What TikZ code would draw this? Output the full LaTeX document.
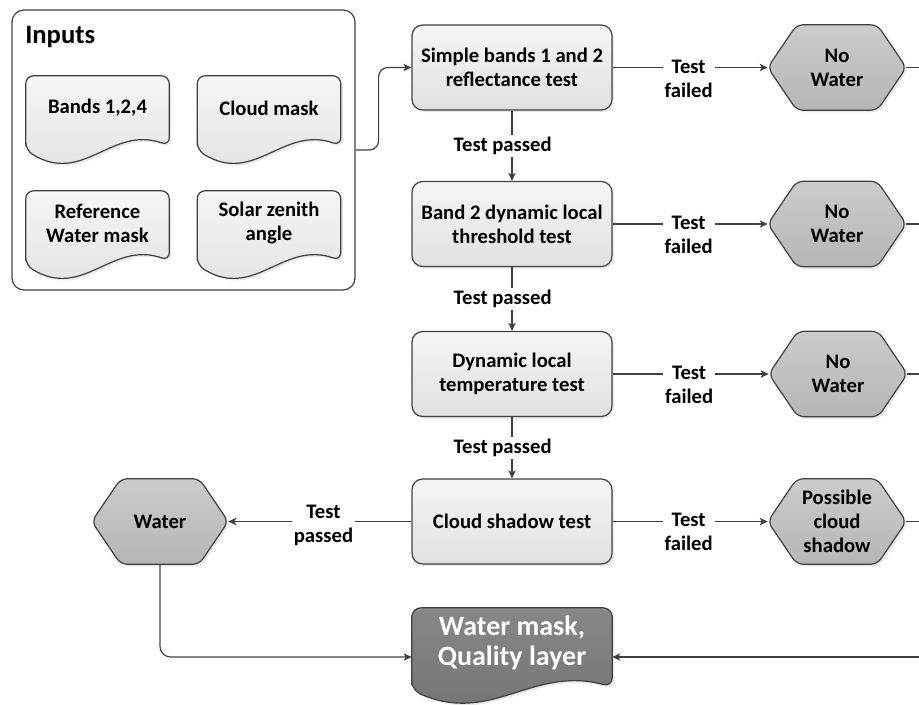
\documentclass[tikz,border=0pt]{standalone}
\usepackage{fontspec}
\setmainfont{Carlito}
\usetikzlibrary{arrows.meta,shadows,backgrounds,calc}
\definecolor{ln}{HTML}{404040}
\definecolor{boxtop}{HTML}{F6F6F6}
\definecolor{boxbot}{HTML}{E0E0E0}
\definecolor{hextop}{HTML}{CBCBCB}
\definecolor{hexbot}{HTML}{B6B6B6}
\definecolor{fintop}{HTML}{878787}
\definecolor{finbot}{HTML}{727272}
% document shape drawn from a named node: #1 name, #2 style, #3 left extension, #4 right extension
\newcommand\docpath[4]{%
  \path[#2] let \p1=(#1.north west), \p2=(#1.south east) in
    (\x1,{\y2-#3}) -- (\x1,\y1) -- (\x2,\y1) -- (\x2,{\y2-#4})
    .. controls ({\x1+0.6*(\x2-\x1)},{\y2-#3+18.75pt}) and ({\x1+0.4*(\x2-\x1)},{\y2-#3-26.25pt}) .. cycle;}
% hexagon drawn from a named node
\newcommand\hexpath[2]{%
  \path[#2] (#1.west) -- ([shift={(29,0)}]#1.north west) -- ([shift={(-29,0)}]#1.north east)
    -- (#1.east) -- ([shift={(-29,0)}]#1.south east) -- ([shift={(29,0)}]#1.south west) -- cycle;}
\begin{document}
\begin{tikzpicture}[x=0.75pt,y=-0.75pt,
  txt/.style={font=\bfseries\fontsize{15.5}{18}\selectfont, align=center, text=black},
  shd/.style={drop shadow={opacity=0.18,shadow xshift=1.6pt,shadow yshift=-1.6pt}},
  testbox/.style={txt, draw=ln, line width=0.9pt, rounded corners=8pt, top color=boxtop, bottom color=boxbot,
    minimum width=150pt, minimum height=63.75pt, inner sep=0pt, shd},
  hexnode/.style={txt, minimum width=103.5pt, minimum height=63.75pt, inner sep=0pt},
  hexdraw/.style={draw=ln, line width=0.9pt, rounded corners=5pt, top color=hextop, bottom color=hexbot, shd},
  docnode/.style={txt, minimum width=107.25pt, minimum height=48pt, inner sep=0pt},
  docdraw/.style={draw=ln, line width=0.9pt, rounded corners=6pt, top color=boxtop, bottom color=boxbot, shd},
  findraw/.style={draw=ln, line width=0.9pt, rounded corners=7pt, top color=fintop, bottom color=finbot, shd},
  plain/.style={draw=ln, line width=0.9pt},
  conn/.style={plain, -{Stealth[length=6pt,width=5.5pt,inset=1.5pt]}},
  lbl/.style={txt, fill=white, inner sep=1.5pt}]
\useasboundingbox (0,0) rectangle (919,704);

% inputs container
\node[draw=ln, line width=0.9pt, rounded corners=9pt, minimum width=257.25pt, minimum height=210pt, inner sep=0pt]
  (inp) at (183.5,150) {};
\node[font=\bfseries\fontsize{20}{22}\selectfont, anchor=west, inner sep=0pt] (inptitle) at (25,37) {Inputs};
\node[docnode] (bands) at (97.5,108) {Bands 1,2,4};
\node[docnode] (cmask) at (269,108) {Cloud mask};
\node[docnode] (refw) at (97.5,223) {Reference\\Water mask};
\node[docnode] (solar) at (269,223) {Solar zenith\\angle};

% tests
\node[testbox] (simple) at (512,67.5) {Simple bands 1 and 2\\reflectance test};
\node[testbox] (band2) at (512,224) {Band 2 dynamic local\\threshold test};
\node[testbox] (dyn) at (512,374) {Dynamic local\\temperature test};
\node[testbox] (cst) at (512,521.5) {Cloud shadow test};

% hexagons
\node[hexnode] (nw1) at (837,67.5) {No\\Water};
\node[hexnode] (nw2) at (837,224) {No\\Water};
\node[hexnode] (nw3) at (838,374) {No\\Water};
\node[hexnode] (pcs) at (837,521.5) {Possible\\cloud\\shadow};
\node[hexnode, minimum width=102pt] (water) at (160,521.5) {Water};

% output
\node[font=\bfseries\fontsize{21}{22.5}\selectfont, align=center, text=white, minimum width=150pt,
  minimum height=52.5pt, inner sep=0pt] (final) at (512,643) {Water mask,\\Quality layer};

\coordinate (edge) at (919,657);

\begin{scope}[on background layer]
  \docpath{bands}{docdraw}{7.5pt}{4pt}
  \docpath{cmask}{docdraw}{7.5pt}{4pt}
  \docpath{refw}{docdraw}{7.5pt}{4pt}
  \docpath{solar}{docdraw}{7.5pt}{4pt}
  \docpath{final}{findraw}{9pt}{6.5pt}
  \hexpath{nw1}{hexdraw}
  \hexpath{nw2}{hexdraw}
  \hexpath{nw3}{hexdraw}
  \hexpath{pcs}{hexdraw}
  \hexpath{water}{hexdraw}
\end{scope}

% connectors
\draw[conn, rounded corners=7pt] (inp.east) -- ++(23,0) |- (simple.west);
\draw[conn] (simple.south) -- node[lbl, xshift=-7pt] {Test passed} (band2.north);
\draw[conn] (band2.south) -- node[lbl, xshift=-7pt] {Test passed} (dyn.north);
\draw[conn] (dyn.south) -- node[lbl, xshift=-7pt] {Test passed} (cst.north);

\draw[conn] (simple.east) -- node[lbl, pos=0.49, yshift=-8.5pt] {Test\\failed} (nw1.west);
\draw[conn] (band2.east) -- node[lbl, pos=0.49, yshift=-8.5pt] {Test\\failed} (nw2.west);
\draw[conn] (dyn.east) -- node[lbl, pos=0.49, yshift=-8.5pt] {Test\\failed} (nw3.west);
\draw[conn] (cst.east) -- node[lbl, pos=0.49, yshift=-7.5pt] {Test\\failed} (pcs.west);
\draw[conn] (cst.west) -- node[lbl, pos=0.48, yshift=-3pt] {Test\\passed} (water.east);

\draw[plain] (nw1.east) -- (nw1.east -| edge);
\draw[plain] (nw2.east) -- (nw2.east -| edge);
\draw[plain] (nw3.east) -- (nw3.east -| edge);
\draw[plain] (pcs.east) -- (pcs.east -| edge);

\draw[conn, rounded corners=8pt] (water.south) |- (final.west |- edge);
\draw[conn] (edge) -- (final.east |- edge);
\end{tikzpicture}
\end{document}
